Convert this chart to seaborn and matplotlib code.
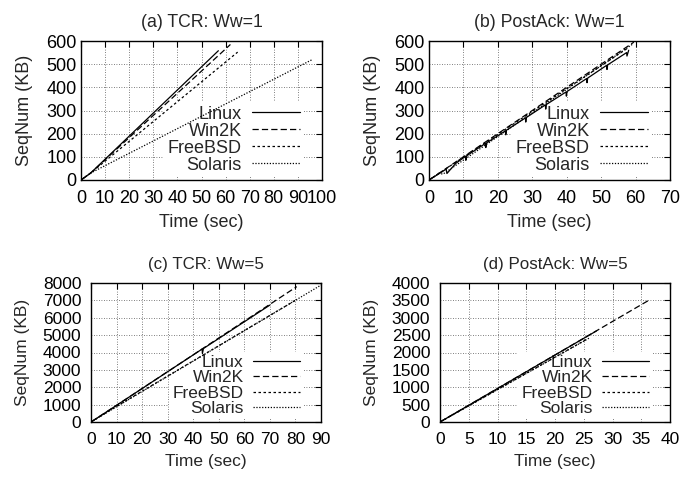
import pandas as pd
import seaborn as sns
import matplotlib.pyplot as plt

# ---- data (time in sec, seqnum in KB) ----
os_names = ["Linux", "Win2K", "FreeBSD", "Solaris"]

# (a) TCR: Ww=1
a_linux_t = [0, 4, 57]
a_linux_kb = [0, 30, 558]
a_win_t = [0, 4, 62]
a_win_kb = [0, 30, 585]
a_bsd_t = [0, 4, 65]
a_bsd_kb = [0, 30, 552]
a_sol_t = [0, 4, 96]
a_sol_kb = [0, 30, 520]

# (b) PostAck: Ww=1  (Linux has small drops)
b_linux_t = [0, 3, 5, 5.2, 7.8, 10.6, 10.7, 10.9, 16.4, 16.5, 16.7, 22.2, 22.3, 22.5,
             28, 28.1, 28.3, 33.8, 33.9, 34.1, 39.8, 39.9, 40.1, 45.8, 45.9, 46.1,
             51.6, 51.7, 51.9, 57.4, 57.5, 58]
b_linux_kb = [0, 28, 47, 28, 72, 102, 85, 104, 158, 140, 160, 212, 195, 215,
              268, 250, 270, 324, 306, 326, 380, 362, 382, 438, 420, 440,
              495, 477, 497, 550, 535, 560]
b_win_t = [0, 59.5]
b_win_kb = [0, 595]
b_bsd_t = [0, 58]
b_bsd_kb = [0, 572]
b_sol_t = [0, 3, 4, 6, 59]
b_sol_kb = [0, 30, 25, 45, 585]

# (c) TCR: Ww=5
c_linux_t = [0, 10, 43.5, 43.6, 44, 70]
c_linux_kb = [0, 960, 4200, 3950, 4230, 6730]
c_win_t = [0, 10, 80.5]
c_win_kb = [0, 960, 7790]
c_bsd_t = [0, 10, 80.5]
c_bsd_kb = [0, 900, 7050]
c_sol_t = [0, 10, 90]
c_sol_kb = [0, 880, 7880]

# (d) PostAck: Ww=5
d_linux_t = [0, 27.2]
d_linux_kb = [0, 2620]
d_win_t = [0, 36.5]
d_win_kb = [0, 3520]
d_bsd_t = [0, 25.5]
d_bsd_kb = [0, 2380]
d_sol_t = [0, 26]
d_sol_kb = [0, 2420]


def make_df(series):
    rows = []
    for name, (t, kb) in zip(os_names, series):
        for x, y in zip(t, kb):
            rows.append({"Time": x, "SeqNum": y, "OS": name})
    return pd.DataFrame(rows)


panels = [
    ("(a) TCR: Ww=1", make_df([(a_linux_t, a_linux_kb), (a_win_t, a_win_kb),
                               (a_bsd_t, a_bsd_kb), (a_sol_t, a_sol_kb)]),
     (0, 100), range(0, 101, 10), (0, 600), range(0, 601, 100)),
    ("(b) PostAck: Ww=1", make_df([(b_linux_t, b_linux_kb), (b_win_t, b_win_kb),
                                   (b_bsd_t, b_bsd_kb), (b_sol_t, b_sol_kb)]),
     (0, 70), range(0, 71, 10), (0, 600), range(0, 601, 100)),
    ("(c) TCR: Ww=5", make_df([(c_linux_t, c_linux_kb), (c_win_t, c_win_kb),
                               (c_bsd_t, c_bsd_kb), (c_sol_t, c_sol_kb)]),
     (0, 90), range(0, 91, 10), (0, 8000), range(0, 8001, 1000)),
    ("(d) PostAck: Ww=5", make_df([(d_linux_t, d_linux_kb), (d_win_t, d_win_kb),
                                   (d_bsd_t, d_bsd_kb), (d_sol_t, d_sol_kb)]),
     (0, 40), range(0, 41, 5), (0, 4000), range(0, 4001, 500)),
]

# axes rectangles in pixels: left, right, top, bottom; font size per panel
W, H = 694, 480
boxes = [(81, 322, 41, 180), (429, 670, 41, 180),
         (91, 321, 283, 422), (440, 670, 283, 422)]
fsizes = [13, 13, 12.5, 12.5]
ypads = [3, 3, 7, 7]
ylabpads = [10, 10, 9, 9]

sns.set_style("white")
plt.rcParams["font.family"] = ["Liberation Sans", "DejaVu Sans"]

palette = {n: "black" for n in os_names}
dashes = {"Linux": "", "Win2K": (5, 2.5), "FreeBSD": (2, 2), "Solaris": (1, 1.3)}

fig = plt.figure(figsize=(W / 100, H / 100), dpi=100)

for i, (title, df, xlim, xticks, ylim, yticks) in enumerate(panels):
    l, r, t, b = boxes[i]
    fs = fsizes[i]
    ax = fig.add_axes([l / W, 1 - b / H, (r - l) / W, (b - t) / H])
    sns.lineplot(data=df, x="Time", y="SeqNum", hue="OS", style="OS",
                 hue_order=os_names, style_order=os_names,
                 palette=palette, dashes=dashes, units="OS", estimator=None,
                 sort=False, linewidth=0.9, ax=ax, zorder=3)
    ax.set_xlim(*xlim)
    ax.set_ylim(*ylim)
    ax.set_xticks(list(xticks))
    ax.set_yticks(list(yticks))
    ax.set_title(title, fontsize=fs - 0.3, pad=10)
    ax.set_xlabel("Time (sec)", fontsize=fs, labelpad=5)
    ax.set_ylabel("SeqNum (KB)", fontsize=fs, labelpad=ylabpads[i])
    ax.tick_params(direction="in", length=4, width=0.8, top=True, right=True,
                   labelsize=fs, colors="black")
    ax.tick_params(axis="x", pad=7)
    ax.tick_params(axis="y", pad=ypads[i])
    ax.grid(True, color="#555555", linestyle=(0, (1, 2)), linewidth=0.6, zorder=0)
    ax.set_axisbelow(True)
    for s in ax.spines.values():
        s.set_color("black")
        s.set_linewidth(1.0)

    handles, labels = ax.get_legend_handles_labels()
    leg = ax.legend(handles, labels, loc="lower right", bbox_to_anchor=(0.925, 0.02),
                    markerfirst=False, frameon=True, fancybox=False,
                    framealpha=1, facecolor="white", edgecolor="none",
                    handlelength=2.7, handletextpad=0.55, labelspacing=0.0,
                    borderpad=0.2, borderaxespad=0, fontsize=fs)
    leg.set_zorder(2)

fig.savefig("out.png", dpi=100)
